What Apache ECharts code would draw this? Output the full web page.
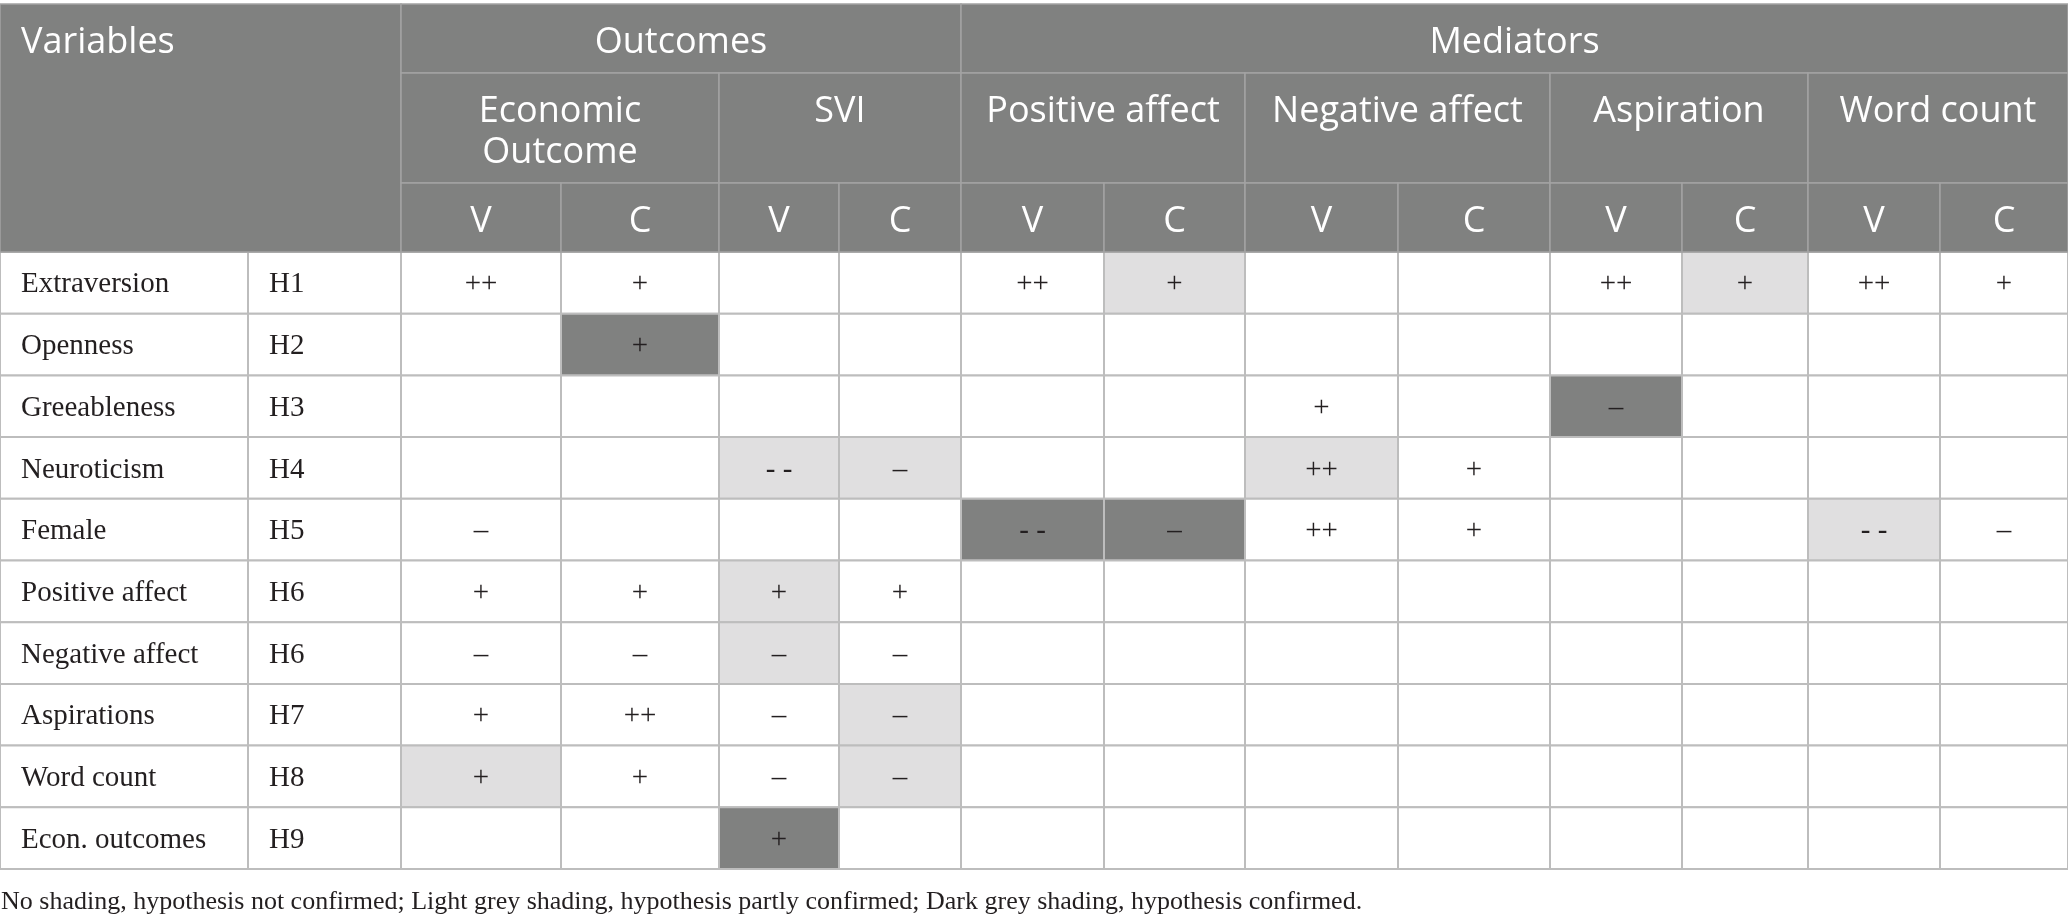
<!DOCTYPE html>
<html>
<head>
<meta charset="utf-8">
<title>Hypotheses table</title>
<script src="https://cdn.jsdelivr.net/npm/echarts@6.0.0/dist/echarts.min.js"></script>
<style>
  html, body { margin: 0; padding: 0; background: #fff; }
  #main { width: 2068px; height: 921px; }
</style>
</head>
<body>
<div id="main"></div>
<script>
// table content
var variables = ['Extraversion', 'Openness', 'Greeableness', 'Neuroticism', 'Female',
  'Positive affect', 'Negative affect', 'Aspirations', 'Word count', 'Econ. outcomes'];
var hypotheses = ['H1', 'H2', 'H3', 'H4', 'H5', 'H6', 'H6', 'H7', 'H8', 'H9'];
var groups = ['Outcomes', 'Mediators'];
var groupSpan = [2, 4];   // sub groups under each group
var subGroups = ['Economic\nOutcome', 'SVI', 'Positive affect', 'Negative affect', 'Aspiration', 'Word count'];
var subCols = ['V', 'C'];
var signs = [
  ['++', '+', '', '', '++', '+', '', '', '++', '+', '++', '+'],
  ['', '+', '', '', '', '', '', '', '', '', '', ''],
  ['', '', '', '', '', '', '+', '', '–', '', '', ''],
  ['', '', '- -', '–', '', '', '++', '+', '', '', '', ''],
  ['–', '', '', '', '- -', '–', '++', '+', '', '', '- -', '–'],
  ['+', '+', '+', '+', '', '', '', '', '', '', '', ''],
  ['–', '–', '–', '–', '', '', '', '', '', '', '', ''],
  ['+', '++', '–', '–', '', '', '', '', '', '', '', ''],
  ['+', '+', '–', '–', '', '', '', '', '', '', '', ''],
  ['', '', '+', '', '', '', '', '', '', '', '', '']
];
// 0 = not confirmed, 1 = partly confirmed, 2 = confirmed
var shading = [
  [0, 0, 0, 0, 0, 1, 0, 0, 0, 1, 0, 0],
  [0, 2, 0, 0, 0, 0, 0, 0, 0, 0, 0, 0],
  [0, 0, 0, 0, 0, 0, 0, 0, 2, 0, 0, 0],
  [0, 0, 1, 1, 0, 0, 1, 0, 0, 0, 0, 0],
  [0, 0, 0, 0, 2, 2, 0, 0, 0, 0, 1, 0],
  [0, 0, 1, 0, 0, 0, 0, 0, 0, 0, 0, 0],
  [0, 0, 1, 0, 0, 0, 0, 0, 0, 0, 0, 0],
  [0, 0, 0, 1, 0, 0, 0, 0, 0, 0, 0, 0],
  [1, 0, 0, 1, 0, 0, 0, 0, 0, 0, 0, 0],
  [0, 0, 2, 0, 0, 0, 0, 0, 0, 0, 0, 0]
];
var footnote = 'No shading, hypothesis not confirmed; Light grey shading, hypothesis partly confirmed; Dark grey shading, hypothesis confirmed.';

// layout
var W = 2068, H = 921;
var colEdges = [0, 248, 401, 561, 719, 839, 961, 1104, 1245, 1398, 1550, 1682, 1808, 1940, 2068];
var headEdges = [4, 73, 183, 252];
var bodyBottom = 869;
var rowH = (bodyBottom - headEdges[3]) / variables.length;
var shadeColors = ['#ffffff', '#e0dfe0', '#808180'];
var headFill = '#808180', headLine = '#a3a3a3', gridLine = '#bdbdbd';
var sansFont = '"Open Sans", sans-serif';
var serifFont = '"Liberation Serif", serif';
var headSize = 36, headLineH = 41, bodySize = 29;

// header cells: column span, header row span, text
var headCells = [{ c: [0, 2], r: [0, 3], text: 'Variables', align: 'left' }];
var gc = 2;
groups.forEach(function (g, gi) {
  headCells.push({ c: [gc, gc + groupSpan[gi] * 2], r: [0, 1], text: g });
  gc += groupSpan[gi] * 2;
});
subGroups.forEach(function (s, si) {
  headCells.push({ c: [2 + si * 2, 4 + si * 2], r: [1, 2], text: s });
  subCols.forEach(function (v, vi) {
    headCells.push({ c: [2 + si * 2 + vi, 3 + si * 2 + vi], r: [2, 3], text: v });
  });
});

// body cells
var bodyCells = [];
variables.forEach(function (name, ri) {
  bodyCells.push({ c: 0, r: ri, text: name, align: 'left', shade: 0 });
  bodyCells.push({ c: 1, r: ri, text: hypotheses[ri], align: 'left', shade: 0 });
  signs[ri].forEach(function (s, ci) {
    bodyCells.push({ c: ci + 2, r: ri, text: s, shade: shading[ri][ci] });
  });
});

var chart = echarts.init(document.getElementById('main'));

function box(api, x0, x1, y0, y1) {
  var p0 = api.coord([x0, y0]), p1 = api.coord([x1, y1]);
  return { x: p0[0], y: p0[1], width: p1[0] - p0[0], height: p1[1] - p0[1] };
}

function renderHead(params, api) {
  var d = headCells[params.dataIndex];
  var b = box(api, colEdges[d.c[0]], colEdges[d.c[1]], headEdges[d.r[0]], headEdges[d.r[1]]);
  var lines = d.text.split('\n').length;
  var left = d.align === 'left';
  return {
    type: 'group',
    children: [{
      type: 'rect',
      shape: b,
      style: { fill: headFill, stroke: headLine, lineWidth: 1.5 }
    }, {
      type: 'text',
      style: {
        text: d.text,
        x: left ? b.x + 21 : b.x + b.width / 2,
        y: b.y + 39 + (lines - 1) * headLineH / 2,
        align: left ? 'left' : 'center',
        verticalAlign: 'middle',
        lineHeight: headLineH,
        fill: '#ffffff',
        font: headSize + 'px ' + sansFont
      }
    }]
  };
}

function renderBody(params, api) {
  var d = bodyCells[params.dataIndex];
  var y0 = headEdges[3] + d.r * rowH;
  var b = box(api, colEdges[d.c], colEdges[d.c + 1], y0, y0 + rowH);
  var left = d.align === 'left';
  return {
    type: 'group',
    children: [{
      type: 'rect',
      shape: b,
      style: { fill: shadeColors[d.shade], stroke: gridLine, lineWidth: 2 }
    }, {
      type: 'text',
      style: {
        text: d.text,
        x: left ? b.x + 21 : b.x + b.width / 2,
        y: b.y + b.height / 2 + 2,
        align: left ? 'left' : 'center',
        verticalAlign: 'middle',
        fill: '#231f20',
        font: bodySize + 'px ' + serifFont
      }
    }]
  };
}

var option = {
  animation: false,
  backgroundColor: '#ffffff',
  title: {
    text: footnote,
    left: 1,
    top: 889,
    padding: 0,
    textStyle: { fontFamily: serifFont, fontSize: 26, fontWeight: 'normal', color: '#231f20' }
  },
  grid: { left: 0, right: 0, top: 0, bottom: 0 },
  xAxis: { type: 'value', min: 0, max: W, show: false },
  yAxis: { type: 'value', min: 0, max: H, inverse: true, show: false },
  series: [{
    type: 'custom',
    silent: true,
    clip: false,
    renderItem: renderBody,
    data: bodyCells.map(function (d, i) { return [i]; })
  }, {
    type: 'custom',
    silent: true,
    clip: false,
    renderItem: renderHead,
    data: headCells.map(function (d, i) { return [i]; })
  }]
};

chart.setOption(option);
</script>
</body>
</html>
